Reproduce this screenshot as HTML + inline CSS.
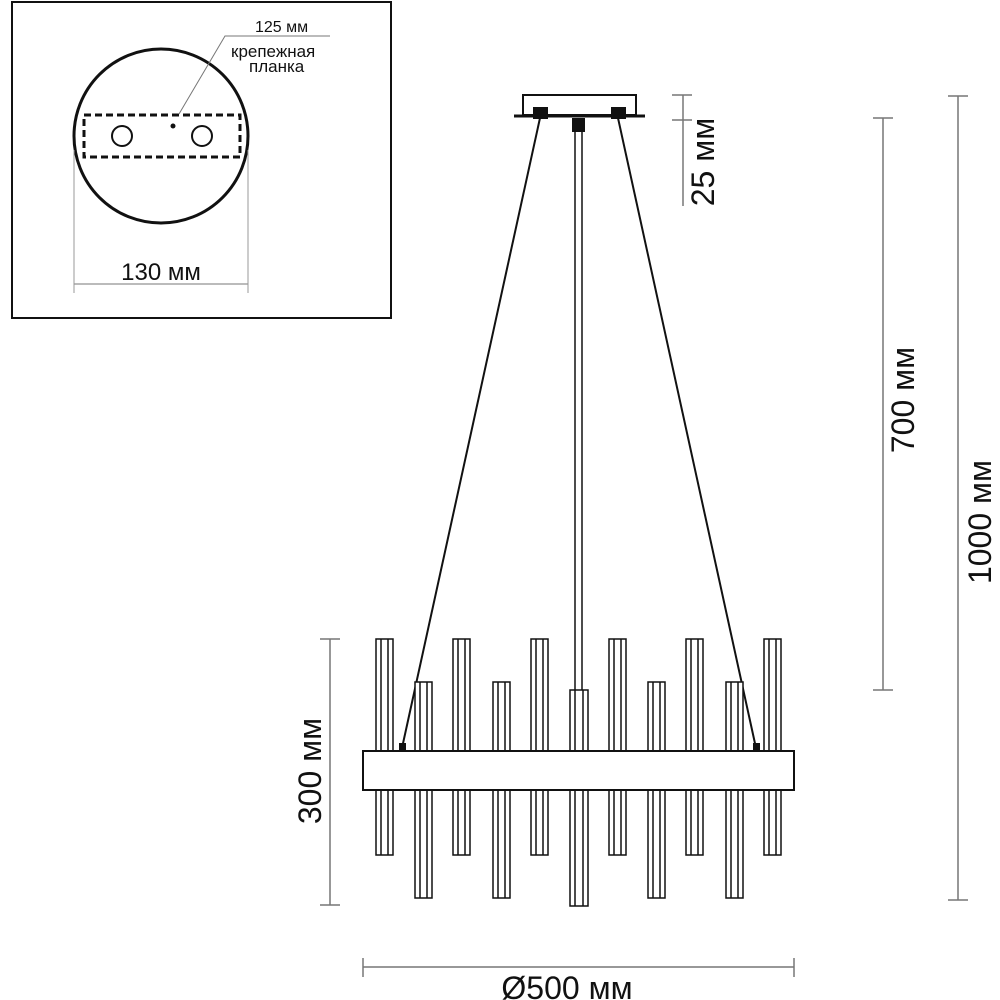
<!DOCTYPE html>
<html><head><meta charset="utf-8"><style>html,body{margin:0;padding:0;background:#fff}svg{display:block}</style></head>
<body>
<svg width="1000" height="1000" viewBox="0 0 1000 1000" xmlns="http://www.w3.org/2000/svg" font-family="Liberation Sans, DejaVu Sans, sans-serif">
<!-- inset -->
<rect x="12" y="2" width="379" height="316" fill="none" stroke="#111" stroke-width="2"/>
<circle cx="161" cy="136" r="87" fill="none" stroke="#111" stroke-width="3"/>
<rect x="84" y="115" width="156" height="42" fill="none" stroke="#111" stroke-width="3" stroke-dasharray="7,4"/>
<circle cx="122" cy="136" r="10" fill="none" stroke="#111" stroke-width="2"/>
<circle cx="202" cy="136" r="10" fill="none" stroke="#111" stroke-width="2"/>
<circle cx="173" cy="126" r="2.5" fill="#111"/>
<polyline points="179,114 225,36 330,36" fill="none" stroke="#777" stroke-width="1"/>
<text x="255" y="32" font-size="16" fill="#111">125 мм</text>
<text x="231" y="57" font-size="17" fill="#111">крепежная</text>
<text x="249" y="72" font-size="17" fill="#111">планка</text>
<line x1="74" y1="284" x2="248" y2="284" stroke="#777" stroke-width="1"/>
<line x1="74" y1="150" x2="74" y2="293" stroke="#999" stroke-width="1"/>
<line x1="248" y1="150" x2="248" y2="293" stroke="#999" stroke-width="1"/>
<text x="161" y="280" font-size="24" text-anchor="middle" fill="#111">130 мм</text>

<!-- canopy -->
<rect x="523" y="95" width="113" height="20" fill="none" stroke="#111" stroke-width="2"/>
<line x1="514" y1="116" x2="645" y2="116" stroke="#111" stroke-width="3"/>
<rect x="533" y="107" width="15" height="12" fill="#111"/>
<rect x="611" y="107" width="15" height="12" fill="#111"/>
<rect x="572" y="118" width="13" height="14" fill="#111"/>
<!-- cables -->
<line x1="540" y1="118" x2="402" y2="748" stroke="#111" stroke-width="2"/>
<line x1="618" y1="118" x2="756" y2="748" stroke="#111" stroke-width="2"/>
<!-- rod -->
<line x1="575" y1="130" x2="575" y2="690" stroke="#111" stroke-width="1.5"/>
<line x1="582" y1="130" x2="582" y2="690" stroke="#111" stroke-width="1.5"/>
<rect x="399" y="743" width="7" height="7" fill="#111"/>
<rect x="753" y="743" width="7" height="7" fill="#111"/>

<g fill="#fff" stroke="#111" stroke-width="1.5">
<rect x="376" y="639" width="17" height="216"/><line x1="381" y1="639" x2="381" y2="855"/><line x1="388" y1="639" x2="388" y2="855"/>
<rect x="453" y="639" width="17" height="216"/><line x1="458" y1="639" x2="458" y2="855"/><line x1="465" y1="639" x2="465" y2="855"/>
<rect x="531" y="639" width="17" height="216"/><line x1="536" y1="639" x2="536" y2="855"/><line x1="543" y1="639" x2="543" y2="855"/>
<rect x="609" y="639" width="17" height="216"/><line x1="614" y1="639" x2="614" y2="855"/><line x1="621" y1="639" x2="621" y2="855"/>
<rect x="686" y="639" width="17" height="216"/><line x1="691" y1="639" x2="691" y2="855"/><line x1="698" y1="639" x2="698" y2="855"/>
<rect x="764" y="639" width="17" height="216"/><line x1="769" y1="639" x2="769" y2="855"/><line x1="776" y1="639" x2="776" y2="855"/>
<rect x="415" y="682" width="17" height="216"/><line x1="420" y1="682" x2="420" y2="898"/><line x1="427" y1="682" x2="427" y2="898"/>
<rect x="493" y="682" width="17" height="216"/><line x1="498" y1="682" x2="498" y2="898"/><line x1="505" y1="682" x2="505" y2="898"/>
<rect x="648" y="682" width="17" height="216"/><line x1="653" y1="682" x2="653" y2="898"/><line x1="660" y1="682" x2="660" y2="898"/>
<rect x="726" y="682" width="17" height="216"/><line x1="731" y1="682" x2="731" y2="898"/><line x1="738" y1="682" x2="738" y2="898"/>
<rect x="570" y="690" width="18" height="216"/><line x1="575" y1="690" x2="575" y2="906"/><line x1="583" y1="690" x2="583" y2="906"/>
</g>
<rect x="363" y="751" width="431" height="39" fill="#fff" stroke="#111" stroke-width="2"/>

<!-- dimensions -->
<g stroke="#777" stroke-width="1.5">
<line x1="683" y1="95" x2="683" y2="206"/><line x1="672" y1="95" x2="692" y2="95"/><line x1="672" y1="120" x2="692" y2="120"/>
<line x1="883" y1="118" x2="883" y2="690"/><line x1="873" y1="118" x2="893" y2="118"/><line x1="873" y1="690" x2="893" y2="690"/>
<line x1="958" y1="96" x2="958" y2="900"/><line x1="948" y1="96" x2="968" y2="96"/><line x1="948" y1="900" x2="968" y2="900"/>
<line x1="330" y1="639" x2="330" y2="905"/><line x1="320" y1="639" x2="340" y2="639"/><line x1="320" y1="905" x2="340" y2="905"/>
<line x1="363" y1="967" x2="794" y2="967"/><line x1="363" y1="958" x2="363" y2="977"/><line x1="794" y1="958" x2="794" y2="977"/>
</g>
<g font-size="32" fill="#111" text-anchor="middle">
<text transform="translate(714,162) rotate(-90)">25 мм</text>
<text transform="translate(914,400) rotate(-90)">700 мм</text>
<text transform="translate(991,522) rotate(-90)">1000 мм</text>
<text transform="translate(321,771) rotate(-90)">300 мм</text>
<text x="567" y="999">Ø500 мм</text>
</g>
</svg>
</body></html>
